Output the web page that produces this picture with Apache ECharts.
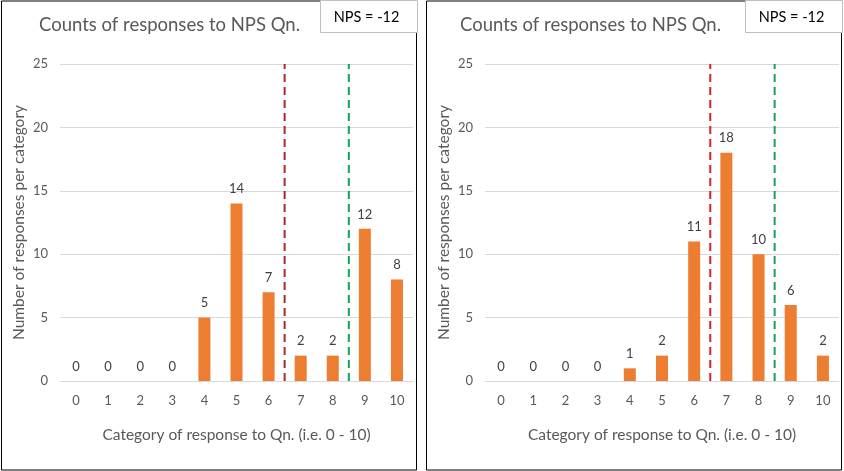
<!DOCTYPE html>
<html>
<head>
<meta charset="utf-8">
<title>NPS counts</title>
<script src="https://cdn.jsdelivr.net/npm/echarts@6/dist/echarts.min.js"></script>
<style>
    html, body { margin: 0; padding: 0; background: #fff; }
    #chart { width: 844px; height: 471px; }
</style>
</head>
<body>
<div id="chart"></div>
<script>
// data
var categories = ['0', '1', '2', '3', '4', '5', '6', '7', '8', '9', '10'];
var countsLeft = [0, 0, 0, 0, 5, 14, 7, 2, 2, 12, 8];
var countsRight = [0, 0, 0, 0, 1, 2, 11, 18, 10, 6, 2];
var npsLabels = ['NPS = -12', 'NPS = -12'];
var detractorCut = 6.5;   // red dashed line, between 6 and 7
var promoterCut = 8.5;    // green dashed line, between 8 and 9
var yMin = 0, yMax = 25, yStep = 5;

var font = 'Lato';
var textGrey = '#595959';
var gridGrey = '#D9D9D9';

function cutLine(value, color, axisIndex) {
    return {
        type: 'line',
        xAxisIndex: axisIndex * 2 + 1,
        yAxisIndex: axisIndex,
        data: [[value, yMin], [value, yMax]],
        symbol: 'none',
        silent: true,
        z: 5,
        lineStyle: { color: color, width: 2, type: [8, 5] }
    };
}

function barSeries(data, axisIndex) {
    return {
        type: 'bar',
        xAxisIndex: axisIndex * 2,
        yAxisIndex: axisIndex,
        data: data,
        barWidth: 12,
        itemStyle: { color: '#ED7D31' },
        label: {
            show: true,
            position: 'top',
            distance: 8,
            color: '#404040',
            fontSize: 13,
            fontFamily: font
        }
    };
}

function catAxis(gridIndex) {
    return {
        type: 'category',
        gridIndex: gridIndex,
        data: categories,
        axisTick: { show: false },
        axisLine: { lineStyle: { color: gridGrey } },
        axisLabel: { color: textGrey, fontSize: 13, fontFamily: font, margin: 13 },
        name: 'Category of response to Qn. (i.e. 0 - 10)',
        nameLocation: 'middle',
        nameGap: 46,
        nameTextStyle: { color: textGrey, fontSize: 15.5, fontFamily: font }
    };
}

function cutAxis(gridIndex) {
    return {
        type: 'value',
        gridIndex: gridIndex,
        min: -0.5,
        max: 10.5,
        show: false
    };
}

function countAxis(gridIndex) {
    return {
        type: 'value',
        gridIndex: gridIndex,
        min: yMin,
        max: yMax,
        interval: yStep,
        axisLine: { show: false },
        axisTick: { show: false },
        splitLine: { lineStyle: { color: gridGrey } },
        axisLabel: { color: textGrey, fontSize: 13, fontFamily: font, margin: 12 },
        name: 'Number of responses per category',
        nameLocation: 'middle',
        nameGap: 33,
        nameTextStyle: { color: textGrey, fontSize: 15.5, fontFamily: font }
    };
}

function panelFrame(x) {
    return {
        type: 'rect',
        shape: { x: x, y: 1, width: 415, height: 469 },
        style: { fill: 'none', stroke: '#000', lineWidth: 1 },
        z: 0
    };
}

function npsBox(x, text) {
    return {
        type: 'group',
        z: 100,
        children: [{
            type: 'rect',
            shape: { x: x, y: 0.5, width: 97, height: 32 },
            style: { fill: '#fff', stroke: '#BFBFBF', lineWidth: 1 }
        }, {
            type: 'text',
            x: x + 46,
            y: 17,
            style: {
                text: text,
                fill: '#000',
                font: '14.5px ' + font,
                align: 'center',
                verticalAlign: 'middle'
            }
        }]
    };
}

var chart = echarts.init(document.getElementById('chart'));
var option = {
    animation: false,
    backgroundColor: '#fff',
    title: [{
        text: 'Counts of responses to NPS Qn.',
        left: 34, top: 11,
        textStyle: { color: textGrey, fontSize: 18.5, fontWeight: 'normal', fontFamily: font }
    }, {
        text: 'Counts of responses to NPS Qn.',
        left: 455, top: 11,
        textStyle: { color: textGrey, fontSize: 18.5, fontWeight: 'normal', fontFamily: font }
    }],
    grid: [
        { left: 60, top: 64, width: 353, height: 317 },
        { left: 485, top: 64, width: 354, height: 317 }
    ],
    xAxis: [catAxis(0), cutAxis(0), catAxis(1), cutAxis(1)],
    yAxis: [countAxis(0), countAxis(1)],
    series: [
        barSeries(countsLeft, 0),
        cutLine(detractorCut, '#A52A2A', 0),
        cutLine(promoterCut, '#16A05A', 0),
        barSeries(countsRight, 1),
        cutLine(detractorCut, '#D42424', 1),
        cutLine(promoterCut, '#16A05A', 1)
    ],
    graphic: [
        panelFrame(1.5),
        panelFrame(426.5),
        npsBox(320.5, npsLabels[0]),
        npsBox(745.5, npsLabels[1])
    ]
};
chart.setOption(option);
</script>
</body>
</html>
